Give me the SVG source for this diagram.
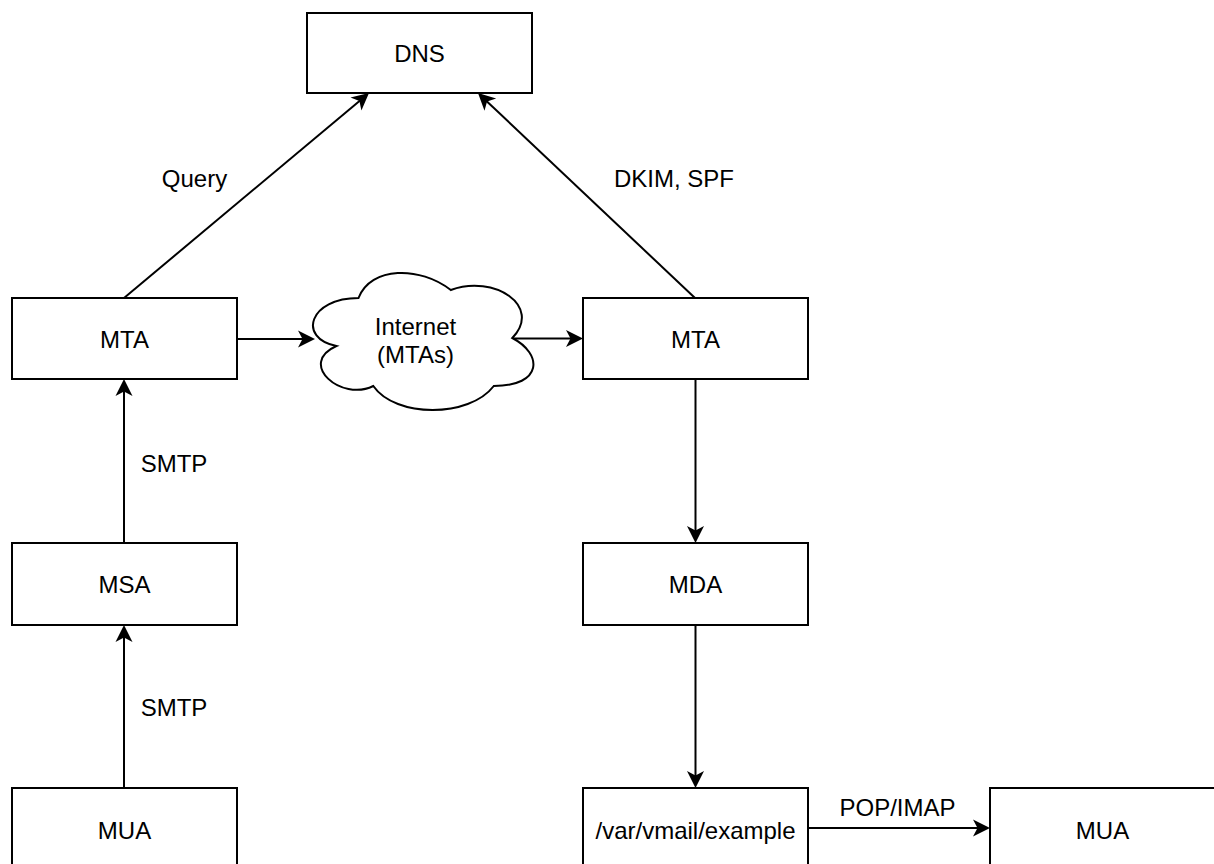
<svg xmlns="http://www.w3.org/2000/svg" width="1214" height="864" viewBox="0 0 1214 864">
  <style>
    .box { fill: #ffffff; stroke: #000000; stroke-width: 2; }
    .edge { fill: none; stroke: #000000; stroke-width: 2; }
    text { font-family: "Liberation Sans", Arial, Helvetica, sans-serif; font-size: 24px; fill: #000000; text-anchor: middle; }
  </style>
  <defs>
    <!-- classic filled arrowhead; the reference point is the notch, the tip lies 12px ahead -->
    <marker id="arrow" markerUnits="userSpaceOnUse" markerWidth="24" markerHeight="24" viewBox="-8 -12 24 24" refX="0" refY="0" orient="auto">
      <path d="M12,0 L-5,-8.5 L-0.5,0 L-5,8.5 Z" fill="#000000"/>
    </marker>
  </defs>
  <rect width="1214" height="864" fill="#ffffff"/>

  <!-- connectors -->
  <g id="connectors">
    <line class="edge" x1="124" y1="298" x2="359.8" y2="100.7" marker-end="url(#arrow)"/>
    <line class="edge" x1="695" y1="298" x2="486.7" y2="101.2" marker-end="url(#arrow)"/>
    <line class="edge" x1="237" y1="339" x2="303" y2="339" marker-end="url(#arrow)"/>
    <line class="edge" x1="512" y1="338.5" x2="571" y2="338.5" marker-end="url(#arrow)"/>
    <line class="edge" x1="124" y1="543" x2="124" y2="391" marker-end="url(#arrow)"/>
    <line class="edge" x1="124" y1="788" x2="124" y2="637" marker-end="url(#arrow)"/>
    <line class="edge" x1="695.5" y1="379" x2="695.5" y2="531" marker-end="url(#arrow)"/>
    <line class="edge" x1="695.5" y1="625" x2="695.5" y2="776" marker-end="url(#arrow)"/>
    <line class="edge" x1="808" y1="828" x2="978" y2="828" marker-end="url(#arrow)"/>
    <text x="194.5" y="186.5">Query</text>
    <text x="674" y="186.5">DKIM, SPF</text>
    <text x="174" y="471.5">SMTP</text>
    <text x="174" y="715.5">SMTP</text>
    <text x="897.5" y="815.5">POP/IMAP</text>
  </g>

  <!-- nodes -->
  <g id="dns">
    <rect class="box" x="307" y="13" width="225" height="80"/>
    <text x="419.5" y="61.5">DNS</text>
  </g>
  <g id="mta-out">
    <rect class="box" x="12" y="298" width="225" height="81"/>
    <text x="124.5" y="347.5">MTA</text>
  </g>
  <g id="internet">
    <path class="box" d="M358.5,298 C309.3,298 297,338 336.4,346 C297,363.6 341.3,402 373.3,386 C395.4,418 469.2,418 493.8,386 C543,386 543,354 512.3,338 C543,306 493.8,274 450.8,290 C420,266 370.8,266 358.5,298 Z"/>
    <text x="415.5" y="334.5">Internet</text>
    <text x="415.5" y="362.5">(MTAs)</text>
  </g>
  <g id="mta-in">
    <rect class="box" x="583" y="298" width="225" height="81"/>
    <text x="695.5" y="347.5">MTA</text>
  </g>
  <g id="msa">
    <rect class="box" x="12" y="543" width="225" height="82"/>
    <text x="124.5" y="592.5">MSA</text>
  </g>
  <g id="mda">
    <rect class="box" x="583" y="543" width="225" height="82"/>
    <text x="695.5" y="592.5">MDA</text>
  </g>
  <g id="mua-sender">
    <rect class="box" x="12" y="788" width="225" height="82"/>
    <text x="124.5" y="838.5">MUA</text>
  </g>
  <g id="mailbox">
    <rect class="box" x="583" y="788" width="225" height="82"/>
    <text x="695.5" y="838.5">/var/vmail/example</text>
  </g>
  <g id="mua-recipient">
    <rect class="box" x="990" y="788" width="225" height="82"/>
    <text x="1102.5" y="838.5">MUA</text>
  </g>
</svg>
